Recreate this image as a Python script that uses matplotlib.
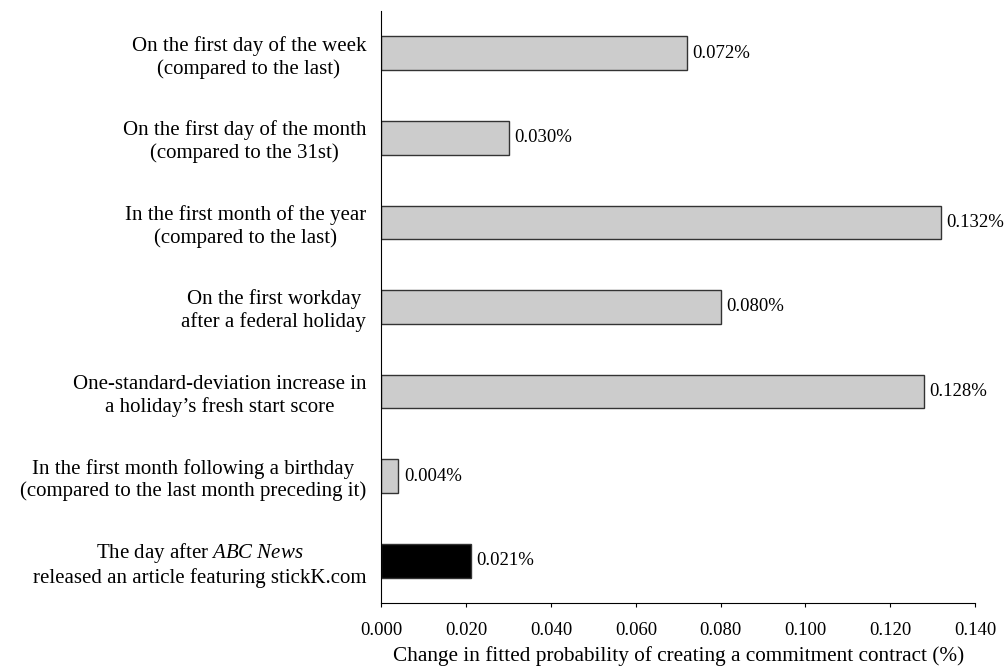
import matplotlib
matplotlib.use('Agg')
import matplotlib.pyplot as plt
import numpy as np

plt.rcParams['font.family'] = ['Liberation Serif', 'DejaVu Serif']
plt.rcParams['mathtext.fontset'] = 'custom'
plt.rcParams['mathtext.rm'] = 'Liberation Serif'
plt.rcParams['mathtext.it'] = 'Liberation Serif:italic'

labels = [
    'On the first day of the week\n(compared to the last)',
    'On the first day of the month\n(compared to the 31st)',
    'In the first month of the year\n(compared to the last)',
    'On the first workday\nafter a federal holiday',
    'One-standard-deviation increase in\na holiday\u2019s fresh start score',
    'In the first month following a birthday\n(compared to the last month preceding it)',
    'The day after $\\mathit{ABC\\ News}$\nreleased an article featuring stickK.com',
]
values = [0.072, 0.030, 0.132, 0.080, 0.128, 0.004, 0.021]
value_text = ['0.072%', '0.030%', '0.132%', '0.080%', '0.128%', '0.004%', '0.021%']
colors = ['#cccccc'] * 6 + ['#000000']
xticks = [0.0, 0.02, 0.04, 0.06, 0.08, 0.10, 0.12, 0.14]

fig = plt.figure(figsize=(10.05, 6.7), dpi=100)
ax = fig.add_axes([0.3796, 0.1, 0.5905, 0.8836])

y = np.arange(len(labels))[::-1]
ax.barh(y, values, height=0.4, color=colors, edgecolor='#333333', linewidth=1)

for yi, v, t in zip(y, values, value_text):
    ax.annotate(t, xy=(v, yi), xytext=(4, 0), textcoords='offset points',
                ha='left', va='center', fontsize=13.5)

ax.set_yticks(y)
ax.set_yticklabels(labels, fontsize=15, multialignment='center')
ax.tick_params(axis='y', length=0, pad=11)
ax.set_ylim(-0.5, 6.5)

ax.set_xlim(0, 0.14)
ax.set_xticks(xticks)
ax.set_xticklabels(['%.3f' % t for t in xticks], fontsize=13.5)
ax.tick_params(axis='x', direction='out', length=3, pad=11)
ax.set_xlabel('Change in fitted probability of creating a commitment contract (%)',
              fontsize=15.3, labelpad=5)

for s in ['top', 'right']:
    ax.spines[s].set_visible(False)

plt.savefig('out.png', dpi=100)
